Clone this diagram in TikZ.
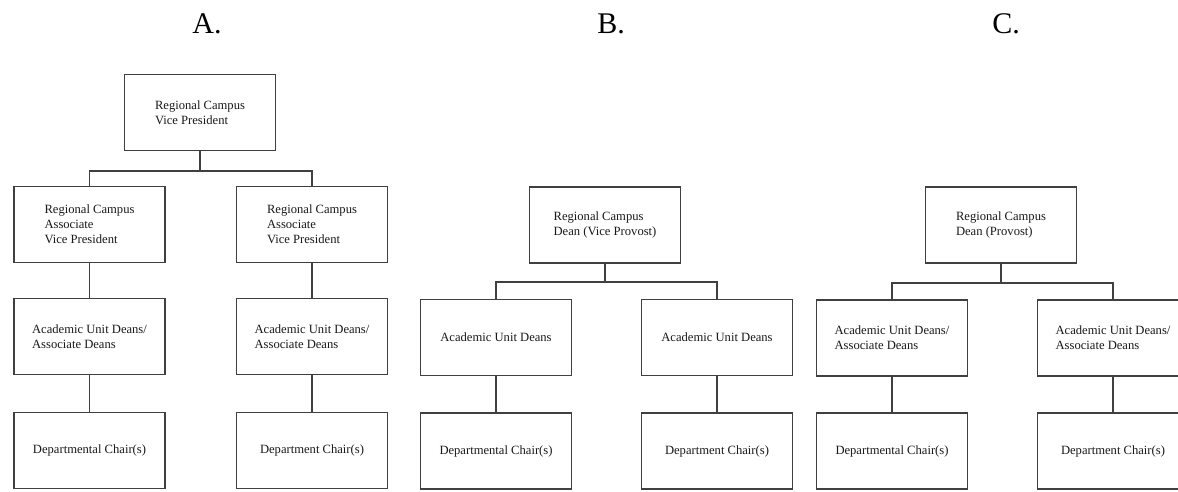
\documentclass[tikz,border=0pt]{standalone}
\usepackage{fontspec}
\setmainfont{Liberation Serif}
\begin{document}
\begin{tikzpicture}[x=1pt,y=-1pt,
  box/.style={draw=black!75, line width=1.1pt, rectangle, minimum width=151pt, minimum height=76pt,
    inner sep=0pt, align=left, font=\fontsize{12.6}{15}\selectfont, text=black!90},
  conn/.style={draw=black!75, line width=1.1pt},
  ttl/.style={font=\fontsize{30}{32}\selectfont, text=black, anchor=base, inner sep=0pt}]
\useasboundingbox (0,0) rectangle (1178,491);
\clip (0,0) rectangle (1178,491);
\fill[white] (0,0) rectangle (1178,491);

% titles
\node[ttl] (tA) at (207,33) {A.};
\node[ttl] (tB) at (611,33) {B.};
\node[ttl] (tC) at (1006,33) {C.};

% Panel A
\node[box] (A0) at (200,112.5) {Regional Campus\\Vice President};
\node[box] (A1) at (89.5,224.5) {Regional Campus\\Associate\\Vice President};
\node[box] (A2) at (312,224.5) {Regional Campus\\Associate\\Vice President};
\node[box] (A3) at (89.5,336.5) {Academic Unit Deans/\\Associate Deans};
\node[box] (A4) at (312,336.5) {Academic Unit Deans/\\Associate Deans};
\node[box] (A5) at (89.5,450.5) {Departmental Chair(s)};
\node[box] (A6) at (312,450.5) {Department Chair(s)};
\coordinate (Abus) at (200,171);
\draw[conn] (A0.south) -- (Abus);
\draw[conn] (A1.north) |- (Abus) -| (A2.north);
\draw[conn] (A1.south) -- (A3.north);
\draw[conn] (A2.south) -- (A4.north);
\draw[conn] (A3.south) -- (A5.north);
\draw[conn] (A4.south) -- (A6.north);

% Panel B
\node[box] (B0) at (605,225) {Regional Campus\\Dean (Vice Provost)};
\node[box] (B1) at (496,337.5) {Academic Unit Deans};
\node[box] (B2) at (717,337.5) {Academic Unit Deans};
\node[box] (B3) at (496,451) {Departmental Chair(s)};
\node[box] (B4) at (717,451) {Department Chair(s)};
\coordinate (Bbus) at (605,282);
\draw[conn] (B0.south) -- (Bbus);
\draw[conn] (B1.north) |- (Bbus) -| (B2.north);
\draw[conn] (B1.south) -- (B3.north);
\draw[conn] (B2.south) -- (B4.north);

% Panel C
\node[box] (C0) at (1001,225) {Regional Campus\\Dean (Provost)};
\node[box] (C1) at (892,338) {Academic Unit Deans/\\Associate Deans};
\node[box] (C2) at (1113,338) {Academic Unit Deans/\\Associate Deans};
\node[box] (C3) at (892,451) {Departmental Chair(s)};
\node[box] (C4) at (1113,451) {Department Chair(s)};
\coordinate (Cbus) at (1001,283);
\draw[conn] (C0.south) -- (Cbus);
\draw[conn] (C1.north) |- (Cbus) -| (C2.north);
\draw[conn] (C1.south) -- (C3.north);
\draw[conn] (C2.south) -- (C4.north);
\end{tikzpicture}
\end{document}
